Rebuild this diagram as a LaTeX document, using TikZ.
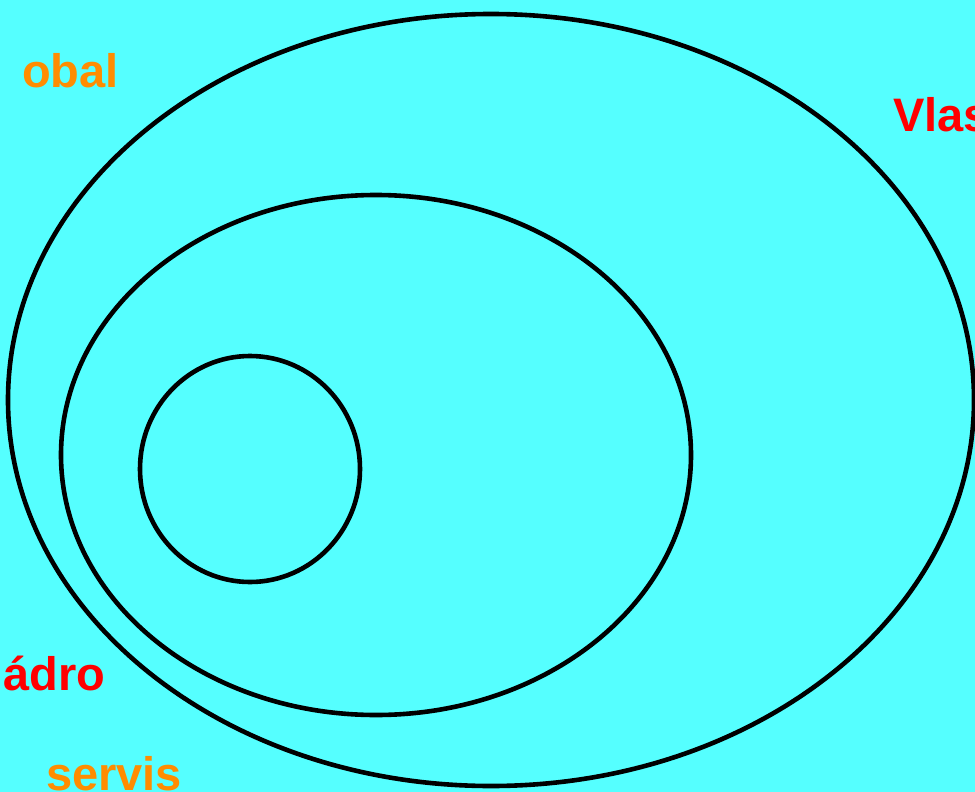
\documentclass[tikz,border=0pt]{standalone}
\usepackage{fontspec}
\setmainfont{Liberation Sans}
\definecolor{bgcyan}{RGB}{85,255,255}
\definecolor{lblorange}{RGB}{255,140,0}
\definecolor{lblred}{RGB}{255,0,0}
\tikzset{
  ring/.style={draw=black, line width=4.6pt},
  lbl/.style={anchor=base west, inner sep=0pt, font=\fontsize{47}{50}\selectfont\bfseries},
}
\begin{document}
\begin{tikzpicture}[x=1pt,y=-1pt]
\useasboundingbox (0,0) rectangle (975,792);
\clip (0,0) rectangle (975,792);
\fill[bgcyan] (0,0) rectangle (975,792);
\coordinate (outerc) at (491,400);
\coordinate (midc) at (376,455);
\coordinate (innerc) at (250,469);
\draw[ring] (outerc) ellipse [x radius=483, y radius=386];
\draw[ring] (midc) ellipse [x radius=315, y radius=260];
\draw[ring] (innerc) ellipse [x radius=110, y radius=113];
\node[lbl, text=lblorange] (obal) at (22,88) {obal};
\node[lbl, text=lblred] (vlas) at (893,131) {Vlas};
\node[lbl, text=lblred] (jadro) at (3,690) {ádro};
\node[lbl, text=lblorange] (servis) at (46,790) {servis};
\end{tikzpicture}
\end{document}
